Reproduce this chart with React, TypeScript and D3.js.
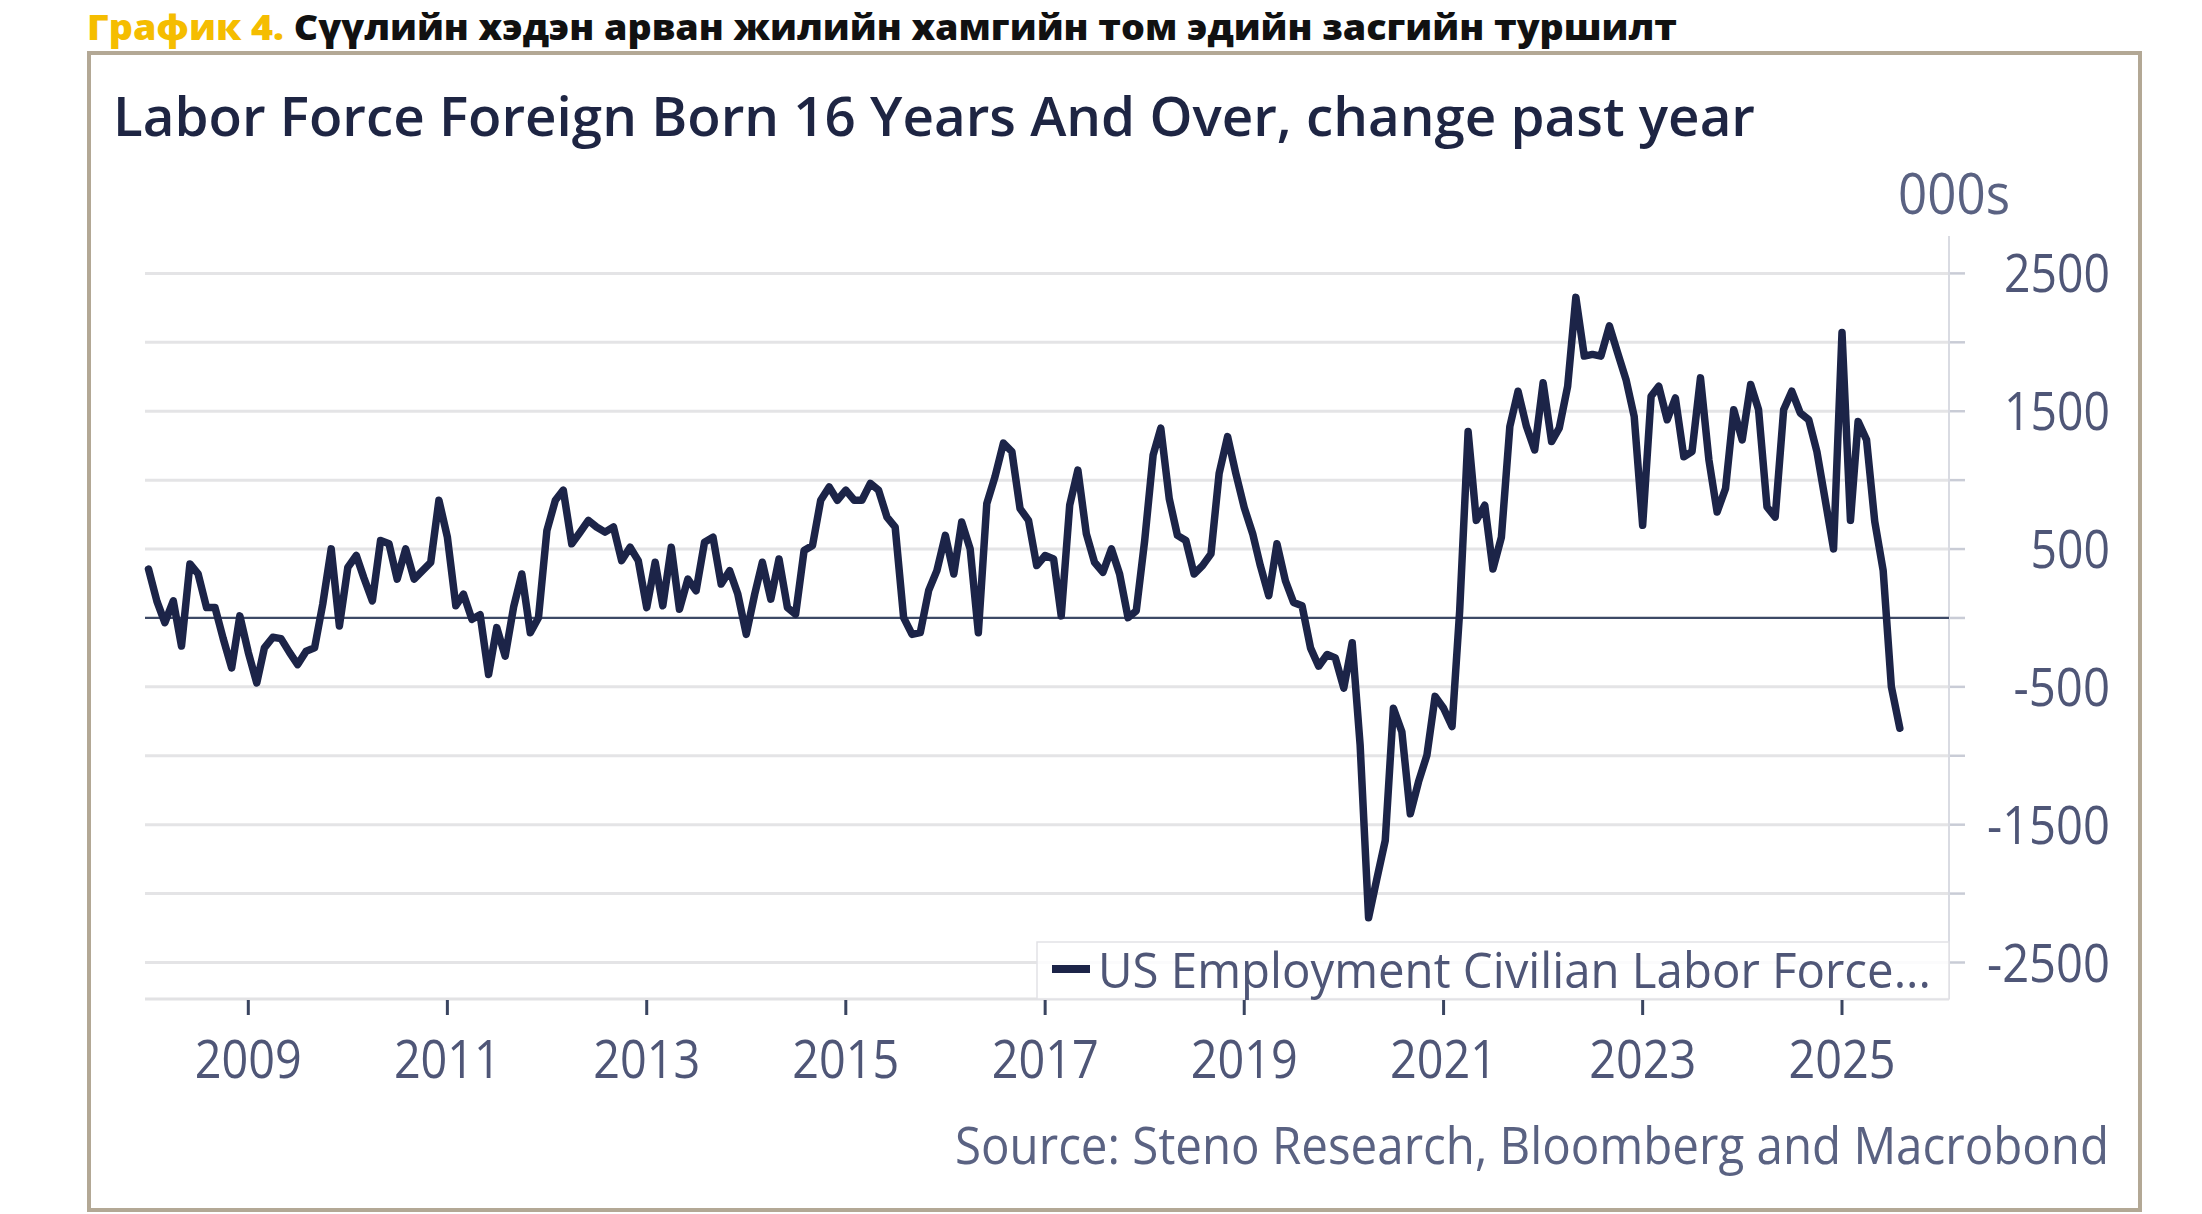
import React from 'react';
import * as d3 from 'd3';

// ─── Data (monthly, starting Jan 2008) ─────────────────────────────────────────
const seriesStart = { year: 2008, month: 0 };

const laborForceChange: number[] = [
    // 2008
    355, 120, -34, 124, -204, 392, 319, 75, 75, -150, -363, 15,
    // 2009
    -250, -472, -217, -140, -150, -250, -338, -241, -217, 100, 501, -58,
    // 2010
    367, 453, 290, 124, 562, 538, 282, 501, 282, 342, 404, 854,
    // 2011
    586, 88, 173, -10, 24, -411, -70, -277, 80, 319, -107, 2,
    // 2012
    635, 854, 927, 538, 620, 708, 660, 623, 660, 416, 513, 416,
    // 2013
    75, 404, 88, 513, 63, 282, 197, 550, 586, 246, 343, 173,
    // 2014
    -119, 173, 404, 136, 428, 75, 27, 489, 526, 854, 951, 854,
    // 2015
    927, 854, 854, 976, 927, 732, 659, 2, -119, -107, 200, 343,
    // 2016
    599, 319, 696, 501, -107, 830, 1024, 1268, 1207, 793, 708, 380,
    // 2017
    453, 428, 15, 818, 1073, 611, 404, 331, 501, 319, 2, 51,
    // 2018
    562, 1183, 1377, 866, 599, 562, 319, 380, 465, 1049, 1316, 1050,
    // 2019
    800, 611, 380, 161, 538, 270, 112, 88, -217, -350, -265, -290,
    // 2020
    -509, -180, -922, -2175, -1896, -1616, -655, -825, -1421, -1190, -995, -569,
    // 2021
    -655, -788, 50, 1353, 708, 818, 355, 586, 1389, 1645, 1389, 1219,
    // 2022
    1706, 1280, 1377, 1681, 2326, 1900, 1912, 1900, 2119, 1925, 1730, 1462,
    // 2023
    672, 1608, 1681, 1438, 1596, 1170, 1207, 1742, 1146, 769, 940, 1511,
    // 2024
    1292, 1694, 1511, 805, 732, 1511, 1645, 1487, 1438, 1207, 850, 501,
    // 2025
    2071, 708, 1426, 1292, 700, 343, -500, -800,
];

const yTicks = [-2500, -1500, -500, 500, 1500, 2500];
const yGrid = [-2500, -2000, -1500, -1000, -500, 500, 1000, 1500, 2000, 2500];
const xTickYears = [2009, 2011, 2013, 2015, 2017, 2019, 2021, 2023, 2025];

const headerLead = 'График 4.';
const headerText = 'Сүүлийн хэдэн арван жилийн хамгийн том эдийн засгийн туршилт';
const chartTitle = 'Labor Force Foreign Born 16 Years And Over, change past year';
const unitLabel = '000s';
const legendLabel = 'US Employment Civilian Labor Force...';
const sourceLabel = 'Source: Steno Research, Bloomberg and Macrobond';

// ─── Layout ───────────────────────────────────────────────────────────────────
const W = 2202;
const H = 1214;
const plotLeft = 145;
const plotRight = 1949;
const plotTop = 236;
const plotBottom = 999;

const navy = '#1c2448';
const axisText = '#4f5677';
const font = '"Open Sans", "Noto Sans", sans-serif';

const App: React.FC = () => {
    const points = laborForceChange.map((v, i) => ({
        date: new Date(seriesStart.year, seriesStart.month + i, 1),
        value: v,
    }));

    const x = d3
        .scaleTime()
        .domain([new Date(2009, 0, 1), new Date(2025, 0, 1)])
        .range([248.3, 1842]);

    const y = d3.scaleLinear().domain([-2500, 2500]).range([962.5, 273.4]);

    const line = d3
        .line<{ date: Date; value: number }>()
        .x(d => x(d.date))
        .y(d => y(d.value))
        .curve(d3.curveLinear);

    const labelWidth = (s: string) =>
        s.replace('-', '').length * 26.5 + (s.startsWith('-') ? 17 : 0);

    return (
        <svg
            width={W}
            height={H}
            style={{ position: 'absolute', left: 0, top: 0, background: '#fff' }}
        >
            {/* header */}
            <text
                x={87}
                y={40}
                fontFamily={font}
                fontWeight={800}
                fontSize={35}
                textLength={1590}
                lengthAdjust="spacingAndGlyphs"
            >
                <tspan fill="#f5bd00">{headerLead}</tspan>
                <tspan fill="#111"> {headerText}</tspan>
            </text>

            {/* frame */}
            <rect
                x={89}
                y={53}
                width={2051}
                height={1157}
                fill="#fff"
                stroke="#b3a895"
                strokeWidth={4}
            />

            {/* chart title */}
            <text
                x={113}
                y={136}
                fontFamily={font}
                fontWeight={600}
                fontSize={55}
                fill="#1e2543"
                textLength={1642}
                lengthAdjust="spacingAndGlyphs"
            >
                {chartTitle}
            </text>

            <text
                x={2010}
                y={214}
                textAnchor="end"
                fontFamily={font}
                fontSize={56}
                fill="#5a6282"
                textLength={112}
                lengthAdjust="spacingAndGlyphs"
            >
                {unitLabel}
            </text>

            {/* grid */}
            {yGrid.map(v => (
                <g key={v}>
                    <line
                        x1={plotLeft}
                        x2={plotRight}
                        y1={y(v)}
                        y2={y(v)}
                        stroke="#e4e4e6"
                        strokeWidth={3}
                    />
                    <line
                        x1={plotRight}
                        x2={plotRight + 16}
                        y1={y(v)}
                        y2={y(v)}
                        stroke="#c9ccd6"
                        strokeWidth={2.5}
                    />
                </g>
            ))}
            <line
                x1={plotRight}
                x2={plotRight + 16}
                y1={y(0)}
                y2={y(0)}
                stroke="#c9ccd6"
                strokeWidth={2.5}
            />

            {/* axes lines */}
            <line
                x1={plotRight}
                x2={plotRight}
                y1={plotTop}
                y2={plotBottom}
                stroke="#d9dbe2"
                strokeWidth={2}
            />
            <line
                x1={plotLeft}
                x2={plotRight}
                y1={plotBottom}
                y2={plotBottom}
                stroke="#e2e2e4"
                strokeWidth={3}
            />
            <line
                x1={plotLeft}
                x2={plotRight}
                y1={y(0)}
                y2={y(0)}
                stroke="#3d4966"
                strokeWidth={2.2}
            />

            {/* y labels */}
            {yTicks.map(v => {
                const s = String(v);
                return (
                    <text
                        key={v}
                        x={2110}
                        y={y(v) + 19}
                        textAnchor="end"
                        fontFamily={font}
                        fontSize={53}
                        fill={axisText}
                        textLength={labelWidth(s)}
                        lengthAdjust="spacingAndGlyphs"
                    >
                        {s}
                    </text>
                );
            })}

            {/* x ticks + labels */}
            {xTickYears.map(yr => {
                const px = x(new Date(yr, 0, 1));
                return (
                    <g key={yr}>
                        <line
                            x1={px}
                            x2={px}
                            y1={plotBottom + 1}
                            y2={plotBottom + 16}
                            stroke="#3a4560"
                            strokeWidth={3}
                        />
                        <text
                            x={px}
                            y={1078}
                            textAnchor="middle"
                            fontFamily={font}
                            fontSize={53}
                            fill={axisText}
                            textLength={107}
                            lengthAdjust="spacingAndGlyphs"
                        >
                            {yr}
                        </text>
                    </g>
                );
            })}

            {/* series */}
            <path
                d={line(points) ?? ''}
                fill="none"
                stroke={navy}
                strokeWidth={7.5}
                strokeLinejoin="round"
                strokeLinecap="round"
            />

            {/* legend */}
            <rect
                x={1037}
                y={942}
                width={plotRight - 1037}
                height={plotBottom - 942}
                fill="#fff"
                fillOpacity={0.85}
                stroke="#e2e2e6"
                strokeWidth={1.5}
            />
            <line x1={1052} x2={1090} y1={969} y2={969} stroke={navy} strokeWidth={8} />
            <text
                x={1098}
                y={988}
                fontFamily={font}
                fontSize={50}
                fill={axisText}
                textLength={833}
                lengthAdjust="spacingAndGlyphs"
            >
                {legendLabel}
            </text>

            {/* source */}
            <text
                x={2109}
                y={1164}
                textAnchor="end"
                fontFamily={font}
                fontSize={51}
                fill="#5a6282"
                textLength={1154}
                lengthAdjust="spacingAndGlyphs"
            >
                {sourceLabel}
            </text>
        </svg>
    );
};

export default App;
